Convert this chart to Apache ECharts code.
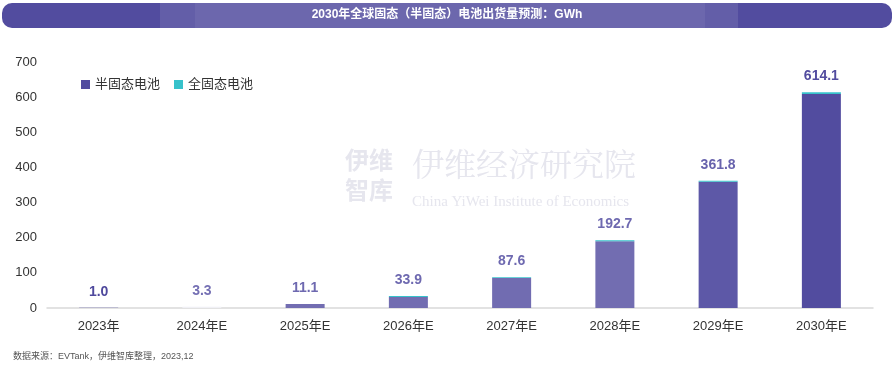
<!DOCTYPE html>
<html><head><meta charset="utf-8">
<script src="https://cdn.jsdelivr.net/npm/echarts@6/dist/echarts.min.js"></script>
<style>html,body{margin:0;padding:0;background:#fff}#c{width:894px;height:365px}</style>
</head><body><div id="c"></div>
<script>
const categories = ['2023年','2024年E','2025年E','2026年E','2027年E','2028年E','2029年E','2030年E'];
const totals = [1.0, 3.3, 11.1, 33.9, 87.6, 192.7, 361.8, 614.1];
const allSolid = [0, 0, 0, 2.5, 2.5, 3, 2.5, 5];
const semiSolid = totals.map((t,i)=>+(t - allSolid[i]).toFixed(1));
const yTicks = [0,100,200,300,400,500,600,700];
const barShades = ['#524c9f','#f0f0f5','#726db1','#726db1','#716cb1','#726db1','#5d58a7','#524c9f'];
const labelShades = ['#4f499d','#7570b4','#6e69b0','#6e69b0','#6e69b0','#6e69b0','#6863ad','#524c9f'];

const chart = echarts.init(document.getElementById('c'));
const font = '"Liberation Sans","Noto Sans CJK SC",sans-serif';
chart.setOption({
  animation:false,
  textStyle:{fontFamily:font},
  graphic:[
    {type:'rect', z:0, shape:{x:2,y:3,width:890,height:25,r:[10,10,10,10]}, style:{fill:'#524c9f'}},
    {type:'rect', z:0, shape:{x:160,y:3,width:578,height:25}, style:{fill:'rgba(255,255,255,0.1)'}},
    {type:'rect', z:0, shape:{x:195,y:3,width:510,height:25}, style:{fill:'rgba(255,255,255,0.06)'}},
    {type:'text', z:1, left:'center', top:9, style:{text:'2030年全球固态（半固态）电池出货量预测：GWh', fill:'#fff', font:'bold 12px '+font}},
    {type:'text', z:-1, left:345, top:150, style:{text:'伊维', fill:'#e6e6ee', font:'bold 24px '+font}},
    {type:'text', z:-1, left:345, top:180, style:{text:'智库', fill:'#e6e6ee', font:'bold 24px '+font}},
    {type:'text', z:-1, left:412, top:148, style:{text:'伊维经济研究院', fill:'#e6e6ee', font:'32px "Noto Serif CJK SC","Noto Sans CJK SC",serif'}},
    {type:'text', z:-1, left:412, top:195, style:{text:'China YiWei Institute of Economics', fill:'#e6e6ee', font:'15px "Liberation Serif",serif'}},
    {type:'text', z:1, left:13, top:352, style:{text:'数据来源：EVTank，伊维智库整理，2023,12', fill:'#555', font:'9px '+font}}
  ],
  legend:{
    left:76, top:73, itemWidth:9, itemHeight:9, itemGap:14,
    textStyle:{color:'#333', fontSize:13},
    data:[{name:'半固态电池', icon:'rect'},{name:'全固态电池', icon:'rect'}]
  },
  grid:{left:47, right:21, top:62, bottom:57},
  xAxis:{
    type:'category', data:categories,
    axisLine:{lineStyle:{color:'#d9d9d9', width:1.5}},
    axisTick:{show:false},
    axisLabel:{color:'#333', fontSize:13, margin:12}
  },
  yAxis:{
    type:'value', min:0, max:700, interval:100,
    axisLine:{show:false}, axisTick:{show:false}, splitLine:{show:false},
    axisLabel:{color:'#333', fontSize:13, margin:10, customValues:yTicks}
  },
  series:[
    {name:'半固态电池', type:'bar', stack:'s', barWidth:39, itemStyle:{color:'#524c9f'},
     data:semiSolid.map((v,i)=>({value:v, itemStyle:{color:barShades[i]}}))},
    {name:'全固态电池', type:'bar', stack:'s', barWidth:39, itemStyle:{color:'#37c2cb'},
     data:allSolid.map((v,i)=>({value:v, label:{color:labelShades[i]}})),
     label:{show:true, position:'top', distance:9, fontSize:14, fontWeight:'bold',
       formatter:p=>totals[p.dataIndex].toFixed(1)}}
  ]
});
</script></body></html>
